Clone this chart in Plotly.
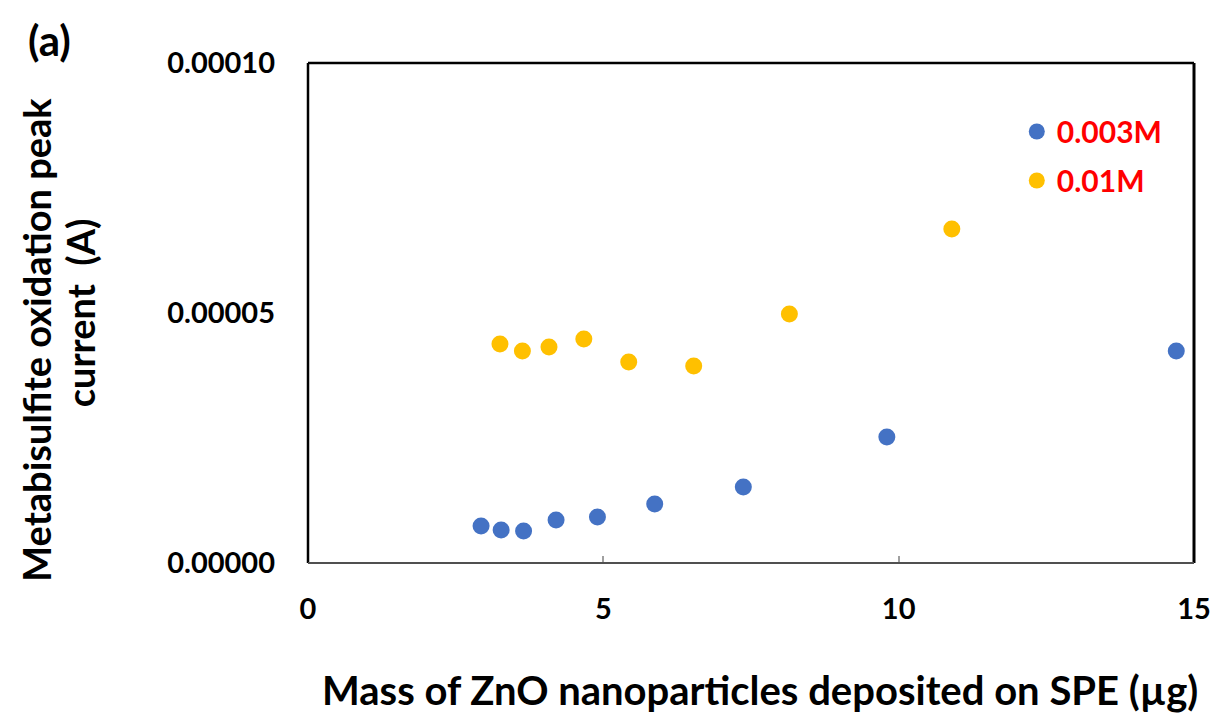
import plotly.graph_objects as go

mass_003 = [2.93, 3.27, 3.65, 4.2, 4.9, 5.87, 7.37, 9.8, 14.7]
current_003 = [0.74e-5, 0.66e-5, 0.64e-5, 0.86e-5, 0.92e-5, 1.18e-5, 1.52e-5, 2.52e-5, 4.24e-5]
mass_01 = [3.25, 3.63, 4.08, 4.67, 5.43, 6.53, 8.15, 10.9]
current_01 = [4.38e-5, 4.24e-5, 4.32e-5, 4.48e-5, 4.02e-5, 3.94e-5, 4.98e-5, 6.68e-5]
series_names = ["0.003M", "0.01M"]
x_ticks = [0, 5, 10, 15]
y_ticks = [0, 0.00005, 0.0001]

FONT = "Lato"
fig = go.Figure()
fig.add_trace(go.Scatter(x=mass_003, y=current_003, mode="markers", name=series_names[0],
                         legendgroup="g1",
                         marker=dict(color="#4472C4", size=17)))
fig.add_trace(go.Scatter(x=mass_01, y=current_01, mode="markers", name=series_names[1],
                         legendgroup="g2",
                         marker=dict(color="#FFC000", size=17)))

fig.update_layout(
    width=1223, height=716,
    margin=dict(l=308, r=20, t=63, b=153),
    paper_bgcolor="white", plot_bgcolor="white",
    font=dict(family=FONT, color="black"),
    showlegend=True,
    legend=dict(x=0.8, y=0.915, xanchor="left", yanchor="top",
                font=dict(family=FONT, size=30, color="#FF0000", weight="bold"),
                bgcolor="rgba(0,0,0,0)", itemsizing="trace", tracegroupgap=7,
                itemwidth=30),
    xaxis=dict(range=[0, 15], tickvals=x_ticks, showgrid=False, zeroline=False,
               ticks="inside", ticklen=7, tickcolor="#A0A0A0", tickwidth=1.5,
               ticklabelstandoff=26,
               tickfont=dict(family=FONT, size=29, weight="bold"),
               showline=False),
    yaxis=dict(range=[0, 0.0001], tickvals=y_ticks, tickformat=".5f",
               showgrid=False, zeroline=False, ticks="", ticklabelstandoff=32,
               tickfont=dict(family=FONT, size=29, weight="bold"),
               showline=False),
)

# frame
fig.add_shape(type="line", xref="paper", yref="paper", x0=0, x1=0, y0=0, y1=1,
              line=dict(color="black", width=2.5))
fig.add_shape(type="line", xref="paper", yref="paper", x0=0, x1=1, y0=1, y1=1,
              line=dict(color="black", width=2.5))
fig.add_shape(type="line", xref="paper", yref="paper", x0=1, x1=1, y0=0, y1=1,
              line=dict(color="black", width=3))
fig.add_shape(type="line", xref="paper", yref="paper", x0=0, x1=1, y0=0, y1=0,
              line=dict(color="#505050", width=2))

fig.add_annotation(text="Mass of ZnO nanoparticles deposited on SPE (µg)",
                   xref="paper", yref="paper", x=0.51, y=-0.254,
                   xanchor="center", yanchor="middle", showarrow=False,
                   font=dict(family=FONT, size=40, weight="bold"))
fig.add_annotation(text="Metabisulfite oxidation peak",
                   xref="paper", yref="paper", x=(33 - 308) / 895, y=(563 - 340) / 500,
                   textangle=-90, xanchor="center", yanchor="middle", showarrow=False,
                   font=dict(family=FONT, size=38, weight="bold"))
fig.add_annotation(text="current  (A)",
                   xref="paper", yref="paper", x=(78 - 308) / 895, y=(563 - 313) / 500,
                   textangle=-90, xanchor="center", yanchor="middle", showarrow=False,
                   font=dict(family=FONT, size=38, weight="bold"))
fig.add_annotation(text="(a)", xref="paper", yref="paper", x=-0.318, y=1.046,
                   xanchor="left", yanchor="middle", showarrow=False,
                   font=dict(family=FONT, size=42, weight="bold"))

fig.write_html("out.html")
